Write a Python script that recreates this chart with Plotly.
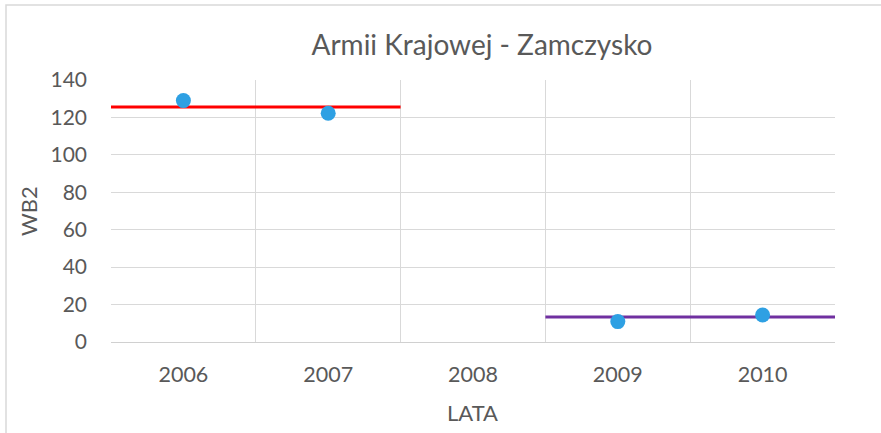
import plotly.graph_objects as go

# ---- data ----
years = ["2006", "2007", "2008", "2009", "2010"]
wb2 = [129.0, 122.2, None, 10.9, 14.4]
period1_years = ["2006", "2007"]
period1_mean = 125.6
period2_years = ["2009", "2010"]
period2_mean = 13.4
y_ticks = [0, 20, 40, 60, 80, 100, 120, 140]

xi = list(range(len(years)))
font_family = "Lato, 'Open Sans', sans-serif"
gray = "#595959"

W, H = 881, 433
L, R, T, B = 111, 46, 80, 91
pw, ph = W - L - R, H - T - B

fig = go.Figure()

def span(ys):
    i0 = years.index(ys[0]); i1 = years.index(ys[-1])
    return [i0 - 0.5, i1 + 0.5]

fig.add_trace(go.Scatter(x=span(period1_years), y=[period1_mean] * 2, mode="lines",
                         line=dict(color="#FF0000", width=3), showlegend=False, hoverinfo="skip"))
fig.add_trace(go.Scatter(x=span(period2_years), y=[period2_mean] * 2, mode="lines",
                         line=dict(color="#7030A0", width=3), showlegend=False, hoverinfo="skip"))
fig.add_trace(go.Scatter(x=xi, y=wb2, mode="markers",
                         marker=dict(color="#2EA0E3", size=15), showlegend=False))

fig.update_layout(
    width=W, height=H,
    margin=dict(l=L, r=R, t=T, b=B, autoexpand=False),
    paper_bgcolor="white", plot_bgcolor="white",
    font=dict(family=font_family, color=gray, size=20),
    title=dict(text="Armii Krajowej - Zamczysko", x=482 / W, xanchor="center", xref="container",
               y=1 - 45 / H, yanchor="middle",
               font=dict(size=28, color=gray, family=font_family)),
    xaxis=dict(range=[-0.5, len(years) - 0.5], tickmode="array", tickvals=xi, ticktext=years,
               showgrid=False, zeroline=False, showline=True, linecolor="#D0D0D0", linewidth=1,
               ticks="", ticklen=0, automargin=False,
               minor=dict(tickvals=[i - 0.5 for i in range(len(years) + 1)], showgrid=True,
                          gridcolor="#D9D9D9", gridwidth=1, ticks=""),
               tickfont=dict(size=21.5, color=gray), ticklabelstandoff=13),
    yaxis=dict(range=[0, 140], tickmode="array", tickvals=y_ticks,
               showgrid=True, gridcolor="#D9D9D9", gridwidth=1, zeroline=False,
               showline=False, ticks="", ticklen=0, automargin=False,
               tickfont=dict(size=21, color=gray), ticklabelstandoff=23),
    annotations=[
        dict(text="LATA", xref="paper", yref="paper", x=(472 - L) / pw, y=-(412 - (T + ph)) / ph,
             xanchor="center", yanchor="middle", showarrow=False,
             font=dict(size=22, color=gray, family=font_family)),
        dict(text="WB2", xref="paper", yref="paper", x=-(L - 28) / pw, y=0.5,
             xanchor="center", yanchor="middle", showarrow=False, textangle=-90,
             font=dict(size=22, color=gray, family=font_family)),
    ],
    shapes=[dict(type="rect", xref="paper", yref="paper",
                 x0=(6 - L) / pw, x1=1.2, y0=-0.5, y1=1 + (T - 5) / ph,
                 line=dict(color="#D9D9D9", width=1.5), fillcolor="rgba(0,0,0,0)", layer="below")],
)

fig.write_html("out.html", config={"displayModeBar": False},
               post_script="document.body.style.margin='0';")
